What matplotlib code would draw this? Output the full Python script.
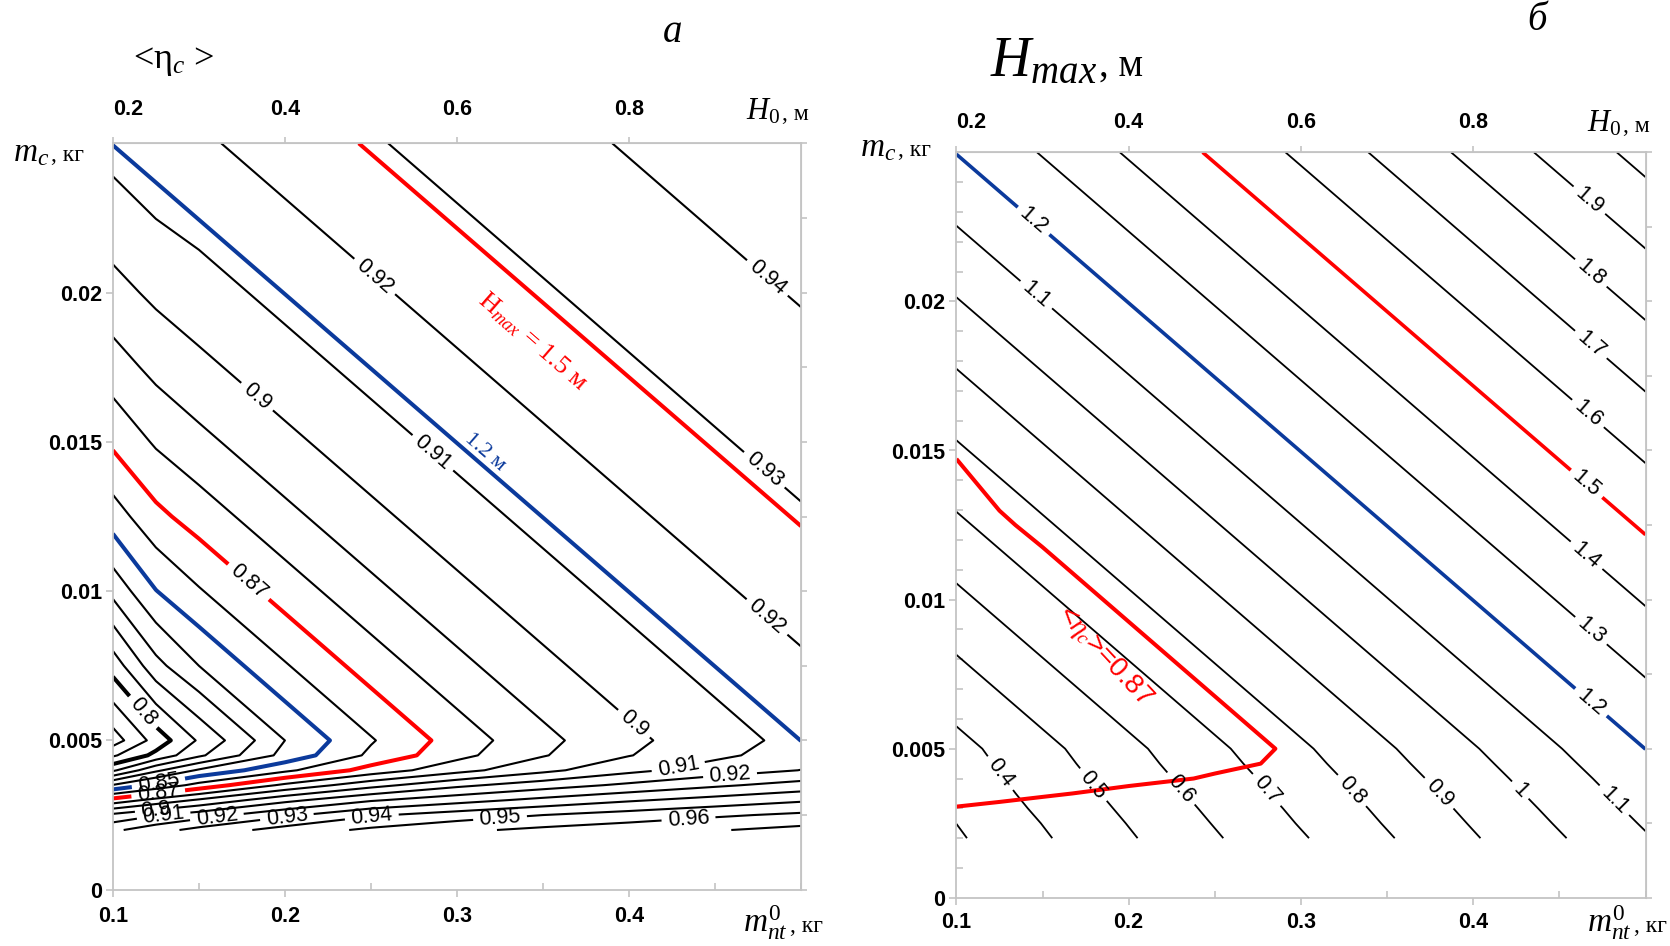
import numpy as np
import matplotlib
matplotlib.use("Agg")
import matplotlib.pyplot as plt
from matplotlib.ticker import MultipleLocator

plt.rcParams["font.family"] = ["Liberation Sans", "DejaVu Sans"]
plt.rcParams["mathtext.fontset"] = "custom"
plt.rcParams["mathtext.rm"] = "Liberation Serif"
plt.rcParams["mathtext.it"] = "Liberation Serif:italic"
plt.rcParams["mathtext.bf"] = "Liberation Serif:bold"

# ---------------------------------------------------------------- data
# grid nodes: initial propellant mass m_nt0 (kg) and charge mass m_c (kg)
m_nt = [0.10, 0.125, 0.15, 0.20, 0.25, 0.30, 0.35, 0.40, 0.45, 0.50]
m_c = [0.002, 0.0025, 0.003, 0.0035, 0.004, 0.0045, 0.005,
       0.0075, 0.010, 0.0125, 0.015, 0.0175, 0.020, 0.0225, 0.025]

# mean efficiency <eta_c>, one row per m_c node
eta_c = [
    [0.918, 0.926, 0.9333, 0.9441, 0.952, 0.958, 0.9623, 0.9658, 0.9693, 0.973],
    [0.9023, 0.9092, 0.9152, 0.9278, 0.9387, 0.9447, 0.950, 0.9542, 0.9584, 0.962],
    [0.8738, 0.8832, 0.8914, 0.9071, 0.9188, 0.9261, 0.9327, 0.9387, 0.9437, 0.9485],
    [0.8407, 0.8525, 0.8635, 0.8821, 0.8965, 0.9077, 0.9153, 0.922, 0.9283, 0.9339],
    [0.8082, 0.8279, 0.8414, 0.8577, 0.874, 0.8865, 0.8974, 0.9073, 0.9147, 0.9202],
    [0.7885, 0.8027, 0.8181, 0.8433, 0.862, 0.877, 0.8893, 0.8996, 0.9078, 0.915],
    [0.775, 0.794, 0.8113, 0.84, 0.8591, 0.8746, 0.8874, 0.8976, 0.9061, 0.9129],
    [0.8043, 0.8267, 0.84, 0.8591, 0.8746, 0.8874, 0.8976, 0.9061, 0.9129, 0.9186],
    [0.833, 0.8497, 0.8591, 0.8746, 0.8874, 0.8976, 0.9061, 0.9129, 0.9186, 0.924],
    [0.8551, 0.8673, 0.8746, 0.8874, 0.8976, 0.9061, 0.9129, 0.9186, 0.924, 0.9292],
    [0.8719, 0.8813, 0.8874, 0.8976, 0.9061, 0.9129, 0.9186, 0.924, 0.9292, 0.9332],
    [0.8855, 0.8927, 0.8976, 0.9061, 0.9129, 0.9186, 0.924, 0.9292, 0.9332, 0.9371],
    [0.8966, 0.9021, 0.9061, 0.9129, 0.9186, 0.924, 0.9292, 0.9332, 0.9371, 0.9407],
    [0.9056, 0.9101, 0.9129, 0.9186, 0.924, 0.9292, 0.9332, 0.9371, 0.9407, 0.9436],
    [0.9135, 0.9158, 0.9186, 0.924, 0.9292, 0.9332, 0.9371, 0.9407, 0.9436, 0.9465],
]
eta_levels = [0.78, 0.79, 0.80, 0.81, 0.82, 0.83, 0.84, 0.85, 0.86, 0.87,
              0.88, 0.89, 0.90, 0.91, 0.92, 0.93, 0.94, 0.95, 0.96, 0.97]

# maximum height H_max (m)
m_nt_h = [0.10, 0.20, 0.30, 0.40, 0.50]
m_c_h = [0.002, 0.0025, 0.003, 0.0035, 0.004, 0.0045, 0.005, 0.015, 0.025]
h_max = [
    [0.2876, 0.4896, 0.6906, 0.8916, 1.0916],
    [0.3005, 0.5035, 0.7065, 0.9075, 1.1095],
    [0.3163, 0.5183, 0.7213, 0.9233, 1.1273],
    [0.3302, 0.5332, 0.7372, 0.9402, 1.1452],
    [0.3430, 0.5480, 0.7520, 0.9570, 1.1630],
    [0.3559, 0.5629, 0.7689, 0.9749, 1.1819],
    [0.3687, 0.5767, 0.7847, 0.9927, 1.2007],
    [0.7857, 0.9937, 1.2017, 1.4097, 1.6177],
    [1.2027, 1.4107, 1.6187, 1.8267, 2.0347],
]
h_levels = [0.3, 0.4, 0.5, 0.6, 0.7, 0.8, 0.9, 1.0, 1.1, 1.2,
            1.3, 1.4, 1.5, 1.6, 1.7, 1.8, 1.9, 2.0]

# highlighted isolines
eta_mark = 0.87
h_mark_low, h_mark_high = 1.2, 1.5

# axis ticks
bottom_ticks = [0.1, 0.2, 0.3, 0.4]
bottom_labels = ["0.1", "0.2", "0.3", "0.4"]
top_labels = ["0.2", "0.4", "0.6", "0.8"]
left_ticks = [0.0, 0.005, 0.01, 0.015, 0.02]
left_labels = ["0", "0.005", "0.01", "0.015", "0.02"]

# ---------------------------------------------------------------- style / layout
W, H = 1670, 946
BLUE = "#0b3a9c"
RED = "#ff0000"
GRAY = "#c4c4c4"
SERIF = "Liberation Serif"
TICK_FONT = dict(family=["Liberation Sans", "DejaVu Sans"], weight="bold", size=15.5)
LABEL_SIZE = 15.5

eta_label_spots = [
    (0.92, (0.2486, 0.0203)), (0.94, (0.4776, 0.0203)), (0.93, (0.4762, 0.0139)),
    (0.90, (0.1851, 0.0166)), (0.91, (0.2870, 0.0147)), (0.87, (0.1817, 0.0105)),
    (0.92, (0.4752, 0.0088)), (0.90, (0.4035, 0.0056)), (0.91, (0.4287, 0.0041)),
    (0.92, (0.4588, 0.0038)), (0.96, (0.4345, 0.00247)), (0.95, (0.3250, 0.00244)),
    (0.94, (0.2505, 0.00244)), (0.93, (0.2010, 0.0025)), (0.92, (0.1603, 0.0025)),
    (0.91, (0.1293, 0.0026)), (0.90, (0.1245, 0.00295)), (0.87, (0.1264, 0.0032)),
    (0.85, (0.1264, 0.0036)), (0.80, (0.1206, 0.0061)),
]
h_label_spots = [
    (1.2, (0.1433, 0.0226)), (1.1, (0.1445, 0.0201)),
    (1.9, (0.466, 0.0233)), (1.8, (0.466, 0.0208)), (1.7, (0.466, 0.0184)),
    (1.6, (0.466, 0.0162)), (1.5, (0.466, 0.0139)), (1.4, (0.466, 0.0115)),
    (1.3, (0.466, 0.0088)), (1.2, (0.466, 0.0064)), (1.1, (0.4876, 0.0036)),
    (1.0, (0.4289, 0.0037)), (0.9, (0.3763, 0.0033)), (0.8, (0.3257, 0.0034)),
    (0.7, (0.2756, 0.0034)), (0.6, (0.2249, 0.0034)), (0.5, (0.1754, 0.0036)),
    (0.4, (0.1260, 0.0042)),
]


def level_text(v):
    return f"{v:.2f}".rstrip("0").rstrip(".")


def style_axes(ax, top_pad, bottom_pad, y_minor):
    ax.set_xlim(0.1, 0.5)
    ax.set_ylim(0.0, 0.025)
    for sp in ax.spines.values():
        sp.set_color(GRAY)
        sp.set_linewidth(1.3)
    ax.set_xticks(bottom_ticks, labels=bottom_labels)
    ax.set_yticks(left_ticks, labels=left_labels)
    ax.xaxis.set_minor_locator(MultipleLocator(0.05))
    if y_minor:
        ax.yaxis.set_minor_locator(MultipleLocator(0.001))
    ax.tick_params(which="major", direction="out", length=5, width=1.2, color=GRAY)
    ax.tick_params(which="minor", direction="in", length=5, width=1.2, color=GRAY)
    ax.tick_params(axis="x", which="major", pad=bottom_pad)
    ax.tick_params(axis="y", which="major", pad=3)
    for lab in ax.get_xticklabels() + ax.get_yticklabels():
        lab.set(**TICK_FONT)

    right = ax.secondary_yaxis("right")
    right.yaxis.set_major_locator(MultipleLocator(0.0025))
    right.tick_params(direction="out", length=4, width=1.2, color=GRAY, labelright=False)
    for sp in right.spines.values():
        sp.set_color(GRAY)

    top = ax.secondary_xaxis("top")
    top.set_xticks(bottom_ticks, labels=top_labels)
    top.tick_params(direction="out", length=4, width=1.2, color=GRAY, pad=top_pad)
    for sp in top.spines.values():
        sp.set_color(GRAY)
    for lab in top.get_xticklabels():
        lab.set(**TICK_FONT)
    top.get_xticklabels()[0].set_horizontalalignment("left")


def isolines(ax, x, y, z, levels, colors, widths, spots):
    """Draw each level as its own contour set and label it at the given spots."""
    for lev, col, lw in zip(levels, colors, widths):
        cs = ax.contour(x, y, z, levels=[lev], colors=[col], linewidths=[lw])
        pts = [xy for lv, xy in spots if lv == lev]
        if pts:
            cs.clabel(manual=pts, inline=True, inline_spacing=6,
                      fontsize=LABEL_SIZE, fmt=level_text, colors="black")


fig = plt.figure(figsize=(W / 100, H / 100), dpi=100)
fig.patch.set_facecolor("white")
ax_a = fig.add_axes([112.9 / W, 1 - 889.7 / H, (801 - 112.9) / W, (889.7 - 143.3) / H])
ax_b = fig.add_axes([956.4 / W, 1 - 897.8 / H, (1645.5 - 956.4) / W, (897.8 - 152.3) / H])

style_axes(ax_a, top_pad=13, bottom_pad=7, y_minor=False)
style_axes(ax_b, top_pad=10, bottom_pad=5, y_minor=True)

eta_arr = np.array(eta_c)
h_arr = np.array(h_max)

# ---- panel a: efficiency isolines with two H_max isolines
eta_colors = [BLUE if lv == 0.85 else RED if lv == eta_mark else "black" for lv in eta_levels]
eta_widths = [2.9 if lv in (0.80, 0.85, eta_mark) else 1.5 for lv in eta_levels]
isolines(ax_a, m_nt, m_c, eta_arr, eta_levels, eta_colors, eta_widths, eta_label_spots)
ax_a.contour(m_nt_h, m_c_h, h_arr, levels=[h_mark_low, h_mark_high],
             colors=[BLUE, RED], linewidths=2.9)
ax_a.text(0.3161, 0.01464, "1.2 м", color=BLUE, rotation=-41, rotation_mode="anchor",
          ha="center", va="center", family=SERIF, fontsize=16)
ax_a.text(0.3440, 0.01838, r"$\mathrm{H}_{max}$ = 1.5 м", color=RED, rotation=-41,
          rotation_mode="anchor", ha="center", va="center", family=SERIF, fontsize=19)

# ---- panel b: H_max isolines with the <eta_c> = 0.87 isoline
h_colors = [BLUE if lv == h_mark_low else RED if lv == h_mark_high else "black" for lv in h_levels]
h_widths = [2.6 if lv in (h_mark_low, h_mark_high) else 1.3 for lv in h_levels]
isolines(ax_b, m_nt_h, m_c_h, h_arr, h_levels, h_colors, h_widths, h_label_spots)
ax_b.contour(m_nt, m_c, eta_arr, levels=[eta_mark], colors=[RED], linewidths=2.9)
ax_b.text(0.186, 0.0081, r"<$\eta_c$>=0.87", color=RED, rotation=-47, rotation_mode="anchor",
          ha="center", va="center", fontsize=20)

# ---- captions around the panels
renderer = fig.canvas.get_renderer()


def caption(px, py, main, main_size, tail=None, tail_size=None, **kw):
    t = fig.text(px / W, 1 - py / H, main, fontsize=main_size, family=SERIF,
                 ha="left", va="baseline", **kw)
    if tail:
        bb = t.get_window_extent(renderer)
        fig.text((bb.x1 + 2) / W, 1 - py / H, tail, fontsize=tail_size, family=SERIF,
                 ha="left", va="baseline", **kw)
    return t


fig.text(673 / W, 1 - 32 / H, "а", fontsize=28, family=SERIF, style="italic",
         ha="center", va="center")
fig.text(1537 / W, 1 - 21 / H, "б", fontsize=28, family=SERIF, style="italic",
         ha="center", va="center")
caption(133, 68, r"<η$_c$ >", 26)
caption(990, 76, r"$H_{max}$", 40, ", м", 28)

caption(746, 120, r"$H_0$", 22, ", м", 17)
caption(1587, 132, r"$H_0$", 22, ", м", 17)
caption(13, 161, r"$m_c$", 24, ", кг", 17)
caption(860, 156, r"$m_c$", 24, ", кг", 17)
caption(743, 932, r"$m_{nt}^{0}$", 24, ", кг", 17)
caption(1587, 932, r"$m_{nt}^{0}$", 24, ", кг", 17)

fig.savefig("out.png", dpi=100, facecolor="white")
